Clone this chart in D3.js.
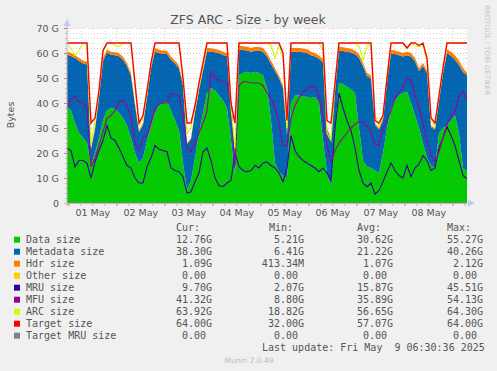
<!DOCTYPE html>
<html>
<head>
<meta charset="utf-8">
<script src="https://cdn.jsdelivr.net/npm/d3@7.9.0/dist/d3.min.js"></script>
<style>
  body { margin: 0; background: #f0f0f0; }
  svg { display: block; font-family: "DejaVu Sans", sans-serif; }
  .mono { font-family: "DejaVu Sans Mono", monospace; }
</style>
</head>
<body>
<svg id="chart" width="497" height="371"></svg>
<script>
// samples every 2 hours, first one at Apr 30 23:20 UTC
const startTime = Date.UTC(2025, 3, 30, 23, 20);
const stepHours = 2;

const dataSize = [38.5,37,32,28,26,24,15,20,26,33, 37,38,37.5,36,34,31,26,20,16,18,
  25,31,36,39,40,40.5,37,33,29,16, 5.3,9,18,28,36,44,46,45,43,41,
  38,25,11,51,52,52.5,52,52.5,52,51, 46,33,16,12.5,11,10,40,43,43,42.5,
  42.5,42,42.5,40,25,12,7,30,48,47.5, 46.5,45.5,44,30,17,14.5,14,13,12,20,
  30,38,41,43,44,44.5,40,35,30,24, 18,15,14,28,30,31,33,35,28,14, 12.76];
const metadataSize = [20.8,21.8,26,28.8,29.8,31.4,6.5,9.4,16.1,23.8, 23.2,21.3,21.6,22.7,23.3,23.8,24.9,19.2,12.4,13.3,
  17.1,22.9,24.5,21,19.7,19.1,20.3,22.8,24.9,31, 18.2,16.5,18.3,17.1,16.9,16.6,14.5,15.3,16.9,18.2,
  20.7,14.2,8.5,10.4,9.2,8.5,8.5,8.4,8.9,9.5, 12.6,22.7,36.8,37.4,35,17.4,20.5,17.5,17.5,17.8,
  17.5,17.1,16.1,17.7,31.2,17.4,18.5,15,13,13.3, 14,14.7,15.5,28.1,37.7,36.3,35.8,18.3,17.4,13.3,
  18,21.8,18.6,16.1,14.6,14.6,18.6,21.7,22.8,30.8, 33.9,15.3,15.4,13.1,21.9,29,25.9,22.3,27.2,38.4, 38.3];
const hdrSize = [1.2,1.2,1.2,1.2,1.2,1.1,0.5,0.6,0.9,1.2, 1.3,1.2,1.2,1.2,1.2,1.1,1.0,0.8,0.6,0.7,
  0.9,1.1,1.5,1.3,1.3,1.3,1.2,1.2,1.1,1.0, 0.5,0.5,0.7,0.9,1.1,1.4,1.4,1.3,1.3,1.3,
  1.2,0.8,0.5,1.6,1.5,1.5,1.5,1.5,1.5,1.5, 1.4,1.3,1.2,1.1,1.0,0.6,1.5,1.5,1.5,1.5,
  1.5,1.4,1.4,1.3,1.3,0.6,0.5,1.0,1.5,1.5, 1.5,1.5,1.5,1.4,1.3,1.2,1.2,0.7,0.6,0.7,
  1.0,1.4,1.4,1.4,1.4,1.4,1.4,1.3,1.2,1.2, 1.1,0.7,0.6,0.9,1.1,1.5,1.6,1.7,1.8,1.6, 1.09];
const otherSize = [0,0,0,0,0,0,0,0,0,0, 0,0,0,0,0,0,0,0,0,0, 0,0,0,0,0,0,0,0,0,0, 0,0,0,0,0,0,0,0,0,0,
  0,0,0,0,0,0,0,0,0,0, 0,0,0,0,0,0,0,0,0,0, 0,0,0,0,0,0,0,0,0,0, 0,0,0,0,0,0,0,0,0,0,
  0,0,0,0,0,0,0,0,0,0, 0,0,0,0,0,0,0,0,0,0, 0];
const mruSize = [22,21,14.5,17,17,16,10,16.5,21,25, 31,26,25,22,18.5,15,14,10,8,8,
  14.5,18,23,21.5,21,20.5,14,13,12.5,10.5, 4,4.5,8.5,12,20.5,22,17,10,7,6.5,
  8,9,20,14.5,13,12.5,13,15,14,16, 16.5,15,14,12,8.5,14,27,21,18.5,17,
  16,15,14,12.5,14,12,9,30,44,38, 33,29,22,13,8,6.5,8,3.5,5,8.5,
  12.5,16,13,11,10,15,10.5,14,15.5,19, 17,13,14,22,26,30.5,27,23,17,11, 9.7];
const mfuSize = [38,41.5,42.5,40.5,40,38,14.5,18,23,28.5, 34,35,37,40.5,41,39,34,24,21,26,
  27,32,37.5,39.5,40,40,43.5,43.5,43,35, 22,20.5,24.5,28,32,36.5,52.5,50,49,48.5,
  48,40,15,47,48.5,48.5,48,48,48,47, 44,42,38,32,23,23,34,39,42,44.5,
  45.5,46.5,46.5,43,34,23,16.5,21,24,26, 28,30,31.5,32.5,32.5,31,28,23.5,23,30,
  33,37,42,44.5,46,50,49,43,38,32, 25,19,16.5,20.5,26,31.5,35,36.5,43,44.5, 41.32];
const arcSize = [63.8,62,59,61,63.8,63.8,23,33,44.5,60.5, 63.8,63.8,63,62.5,63.8,63.8,63.8,46,31,34,
  44,55.5,63.8,63.8,63.8,63.8,63.8,63.8,63.8,49, 28,30,38,47,55,63.8,63.8,63.8,63.8,63.8,
  63.8,38,22,63.8,63.8,63.8,63.8,63.8,63.8,63.8, 63.8,63,58,63,58,30,63.8,63.8,63.8,63.8,
  63.8,63.8,63.8,63.8,61,28,25,47,63.8,63.8, 63.8,63.8,63.8,63,57,63,63.8,35,31,34.5,
  50,63.8,63.8,63.8,63.8,61.5,63.8,63,62.5,63, 57,33,31,42,53.5,63.8,63.8,63.8,63.8,63.9, 63.92];
const targetSize = [64,64,64,64,64,64,32,34,45,61, 64,64,64,64,64,64,64,48,32,35,
  45,56,64,64,64,64,64,64,64,50, 32,32,39,48,56,64,64,64,64,64,
  64,40,32,64,64,64,64,64,64,64, 64,64,64,64,60,33,64,64,64,64,
  64,64,64,64,64,33,32,48,64,64, 64,64,64,64,64,64,64,33,32,35,
  50,64,64,64,64,62,64,64,63,64, 58,34,32,43,54,64,64,64,64,64, 64];
const targetMruSize = [0,0,0,0,0,0,0,0,0,0, 0,0,0,0,0,0,0,0,0,0, 0,0,0,0,0,0,0,0,0,0, 0,0,0,0,0,0,0,0,0,0,
  0,0,0,0,0,0,0,0,0,0, 0,0,0,0,0,0,0,0,0,0, 0,0,0,0,0,0,0,0,0,0, 0,0,0,0,0,0,0,0,0,0,
  0,0,0,0,0,0,0,0,0,0, 0,0,0,0,0,0,0,0,0,0, 0];

const yTicks = [0, 10, 20, 30, 40, 50, 60, 70];

// legend table
const legendNames = ['Data size', 'Metadata size', 'Hdr size', 'Other size', 'MRU size',
  'MFU size', 'ARC size', 'Target size', 'Target MRU size'];
const legendColors = ['#00cc00', '#0066b3', '#ff8000', '#ffcc00', '#330099',
  '#990099', '#ccff00', '#ff0000', '#808080'];
const curValues = ['12.76G', '38.30G', '1.09G', '0.00', '9.70G', '41.32G', '63.92G', '64.00G', '0.00'];
const minValues = ['5.21G', '6.41G', '413.34M', '0.00', '2.07G', '8.80G', '18.82G', '32.00G', '0.00'];
const avgValues = ['30.62G', '21.22G', '1.07G', '0.00', '15.87G', '35.89G', '56.65G', '57.07G', '0.00'];
const maxValues = ['55.27G', '40.26G', '2.12G', '0.00', '45.51G', '54.13G', '64.30G', '64.00G', '0.00'];

const plot = { left: 67, right: 467, top: 28, bottom: 203 };
const svg = d3.select('#chart');

const rows = dataSize.map((d, i) => ({
    time: new Date(startTime + i * stepHours * 36e5),
    data: d, meta: metadataSize[i], hdr: hdrSize[i], other: otherSize[i],
    mru: mruSize[i], mfu: mfuSize[i], arc: arcSize[i], target: targetSize[i], targetMru: targetMruSize[i]
}));

const xScale = d3.scaleUtc()
    .domain([rows[0].time, rows[rows.length - 1].time])
    .range([plot.left, plot.right]);
const yScale = d3.scaleLinear().domain([0, 70]).range([plot.bottom, plot.top]);

// white canvas
svg.append('rect')
    .attr('x', plot.left).attr('y', plot.top)
    .attr('width', plot.right - plot.left).attr('height', plot.bottom - plot.top)
    .attr('fill', '#fff');

svg.append('clipPath').attr('id', 'clip')
    .append('rect')
    .attr('x', plot.left).attr('y', plot.top - 2)
    .attr('width', plot.right - plot.left).attr('height', plot.bottom - plot.top + 2);

const g = svg.append('g').attr('clip-path', 'url(#clip)');

// stacked areas
const stacked = d3.stack().keys(['data', 'meta', 'hdr', 'other'])(rows);
const area = d3.area()
    .x(d => xScale(d.data.time))
    .y0(d => yScale(d[0]))
    .y1(d => yScale(d[1]));
g.selectAll('path.layer')
    .data(stacked)
    .join('path')
    .attr('class', 'layer')
    .attr('fill', (d, i) => legendColors[i])
    .attr('d', area);

// gridlines over the areas, like rrdtool
const minorY = d3.range(0, 71, 2).filter(v => v % 10 !== 0);
const [t0, t1] = xScale.domain();
const midnights = d3.utcDay.range(t0, t1);
const sixHours = d3.utcHour.every(6).range(t0, t1).filter(d => d.getUTCHours() !== 0);

const minorColor = 'rgba(120,120,120,0.28)';
const majorColor = 'rgba(230,50,50,0.33)';
const grid = svg.append('g').attr('class', 'grid');
grid.append('g')
    .attr('transform', `translate(${plot.left},0)`)
    .call(d3.axisLeft(yScale).tickValues(minorY).tickFormat('').tickSize(-(plot.right - plot.left)))
    .call(s => s.select('.domain').remove())
    .call(s => s.selectAll('line').attr('stroke', minorColor).attr('stroke-dasharray', '1,2'));
grid.append('g')
    .attr('transform', `translate(0,${plot.bottom})`)
    .call(d3.axisBottom(xScale).tickValues(sixHours).tickFormat('').tickSize(-(plot.bottom - plot.top)))
    .call(s => s.select('.domain').remove())
    .call(s => s.selectAll('line').attr('stroke', minorColor).attr('stroke-dasharray', '1,2'));
grid.append('g')
    .attr('transform', `translate(${plot.left},0)`)
    .call(d3.axisLeft(yScale).tickValues(yTicks.filter(v => v > 0)).tickFormat('').tickSize(-(plot.right - plot.left)))
    .call(s => s.select('.domain').remove())
    .call(s => s.selectAll('line').attr('stroke', majorColor).attr('stroke-dasharray', '1,2'));
grid.append('g')
    .attr('transform', `translate(0,${plot.bottom})`)
    .call(d3.axisBottom(xScale).tickValues(midnights).tickFormat('').tickSize(-(plot.bottom - plot.top)))
    .call(s => s.select('.domain').remove())
    .call(s => s.selectAll('line').attr('stroke', majorColor).attr('stroke-dasharray', '1,2'));

// lines
const lineSeries = [
    { key: 'mru', color: legendColors[4] },
    { key: 'mfu', color: legendColors[5] },
    { key: 'arc', color: legendColors[6] },
    { key: 'target', color: legendColors[7] },
    { key: 'targetMru', color: legendColors[8] }
];
lineSeries.forEach(s => {
    g.append('path')
        .datum(rows)
        .attr('fill', 'none')
        .attr('stroke', s.color)
        .attr('stroke-width', s.key === 'target' ? 1.4 : 1.1)
        .attr('d', d3.line().x(d => xScale(d.time)).y(d => yScale(d[s.key])));
});

// small ticks outside the canvas
svg.append('g')
    .attr('transform', `translate(0,${plot.bottom})`)
    .call(d3.axisBottom(xScale).tickValues(sixHours).tickFormat('').tickSize(3))
    .call(s => s.select('.domain').remove())
    .call(s => s.selectAll('line').attr('stroke', '#bbb'));
svg.append('g')
    .attr('transform', `translate(0,${plot.bottom})`)
    .call(d3.axisBottom(xScale).tickValues(midnights).tickFormat('').tickSize(3))
    .call(s => s.select('.domain').remove())
    .call(s => s.selectAll('line').attr('stroke', '#e07070'));
svg.append('g')
    .attr('transform', `translate(${plot.left},0)`)
    .call(d3.axisLeft(yScale).tickValues(minorY).tickFormat('').tickSize(2))
    .call(s => s.select('.domain').remove())
    .call(s => s.selectAll('line').attr('stroke', '#bbb'));
svg.append('g')
    .attr('transform', `translate(${plot.left},0)`)
    .call(d3.axisLeft(yScale).tickValues(yTicks).tickFormat('').tickSize(3))
    .call(s => s.select('.domain').remove())
    .call(s => s.selectAll('line').attr('stroke', '#e07070'));

// axis lines and arrows
svg.append('line').attr('x1', plot.left).attr('x2', plot.left)
    .attr('y1', plot.bottom + 3).attr('y2', 21).attr('stroke', '#bbb');
svg.append('line').attr('x1', plot.left - 3).attr('x2', 470)
    .attr('y1', plot.bottom + 0.5).attr('y2', plot.bottom + 0.5).attr('stroke', '#bbb');
svg.append('path').attr('d', 'M63.5,26L70.5,26L67,19Z').attr('fill', '#c4c8f4');
svg.append('path').attr('d', 'M468,199.5L468,206.5L475,203Z').attr('fill', '#c4c8f4');

// axis labels
svg.append('g')
    .attr('transform', `translate(${plot.left},0)`)
    .call(d3.axisLeft(yScale).tickValues(yTicks).tickFormat(d => d === 0 ? '0' : `${d} G`).tickSize(0).tickPadding(8))
    .call(s => s.select('.domain').remove())
    .call(s => s.selectAll('text').attr('fill', '#555').style('font-size', '9.5px').style('font-family', '"DejaVu Sans", sans-serif'));

const noons = midnights.map(d => d3.utcHour.offset(d, 12)).filter(d => d < t1);
svg.append('g')
    .attr('transform', `translate(0,${plot.bottom})`)
    .call(d3.axisBottom(xScale).tickValues(noons).tickFormat(d3.utcFormat('%d %b')).tickSize(0).tickPadding(6))
    .call(s => s.select('.domain').remove())
    .call(s => s.selectAll('text').attr('fill', '#555').style('font-size', '9.5px').style('font-family', '"DejaVu Sans", sans-serif'));

svg.append('text')
    .attr('transform', 'translate(14,115) rotate(-90)')
    .attr('text-anchor', 'middle')
    .attr('fill', '#555').style('font-size', '9.5px')
    .text('Bytes');

svg.append('text')
    .attr('x', 248).attr('y', 24)
    .attr('text-anchor', 'middle')
    .attr('fill', '#555').style('font-size', '12.5px')
    .text('ZFS ARC - Size - by week');

svg.append('text')
    .attr('transform', 'translate(484.5,5) rotate(90)')
    .attr('fill', '#c4c4c4').style('font-size', '7px')
    .text('RRDTOOL / TOBI OETIKER');

// legend
const legend = svg.append('g').attr('class', 'mono').style('font-size', '10px').attr('fill', '#555');
const headers = [['Cur:', 176], ['Min:', 269], ['Avg:', 357], ['Max:', 447]];
headers.forEach(([t, hx]) => legend.append('text').attr('x', hx).attr('y', 231).text(t));

const columns = [[curValues, 212], [minValues, 304], [avgValues, 393], [maxValues, 483]];
legendNames.forEach((name, i) => {
    const cy = 239.7 + i * 12;
    legend.append('rect').attr('x', 14).attr('y', cy - 3).attr('width', 6).attr('height', 6)
        .attr('fill', legendColors[i]);
    legend.append('text').attr('x', 26).attr('y', cy + 3.5).text(name);
    columns.forEach(([vals, right]) => {
        const v = vals[i];
        const hasUnit = /[A-Za-z]$/.test(v);
        legend.append('text')
            .attr('x', hasUnit ? right : right - 6)
            .attr('y', cy + 3.5)
            .attr('text-anchor', 'end')
            .text(v);
    });
});

// two spaces before the day, as rrdtool prints it
legend.append('text').attr('x', 262).attr('y', 351)
    .text('Last update: Fri May \u00a09 06:30:36 2025');

svg.append('text')
    .attr('x', 249).attr('y', 363)
    .attr('text-anchor', 'middle')
    .attr('fill', '#bbb').style('font-size', '7.5px')
    .text('Munin 2.0.49');
</script>
</body>
</html>
